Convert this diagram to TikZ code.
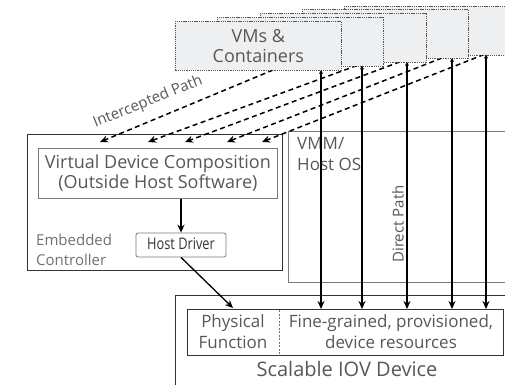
\documentclass[tikz,border=0pt]{standalone}
\usepackage{fontspec}
\setmainfont{Open Sans}
\usepackage{graphicx}
\usetikzlibrary{arrows.meta}
\definecolor{txtgray}{HTML}{575757}
\definecolor{lightgray}{HTML}{707070}
\definecolor{vmfill}{HTML}{EEEFF1}
\definecolor{boxedge}{HTML}{555555}
\definecolor{frameedge}{HTML}{333333}
\definecolor{thinedge}{HTML}{7A7A7A}
\definecolor{divblue}{HTML}{4F7CB0}
\begin{document}
\begin{tikzpicture}[x=1pt,y=-1pt,
  lbl/.style={text=txtgray, inner sep=0pt},
  vmbox/.style={draw=boxedge, fill=vmfill, dash pattern=on 1.3pt off 0.9pt, line width=0.7pt,
    minimum width=166pt, minimum height=49pt, inner sep=0pt, anchor=north west},
  frame/.style={draw=frameedge, line width=1.2pt},
  thinframe/.style={draw=thinedge, line width=0.8pt},
  direct/.style={draw=black, line width=1.3pt, {Stealth[length=4pt,width=4pt]}-{Stealth[length=8pt,width=7pt]}},
  intercept/.style={draw=black, line width=1.5pt, dash pattern=on 5pt off 3.5pt, -{Stealth[length=8pt,width=7pt]}},
  solidarrow/.style={draw=black, line width=1.3pt, -{Stealth[length=8pt,width=7pt]}},
]
\useasboundingbox (0,0) rectangle (505,384);
\clip (0,0) rectangle (505,384);

% VMM / Host OS
\node[thinframe, minimum width=240pt, minimum height=151pt, anchor=north west, inner sep=0pt] (vmm) at (288,131) {};
\node[lbl, anchor=north west, align=left, font=\fontsize{17}{21}\selectfont] (vmmtxt) at (297,137) {VMM/\\Host OS};
\node[lbl, rotate=90, font=\fontsize{15}{18}\selectfont] (dp) at (398,224) {Direct Path};

% Scalable IOV device
\node[frame, minimum width=340pt, minimum height=100pt, anchor=north west, inner sep=0pt] (dev) at (175,295) {};
\node[frame, line width=1pt, minimum width=316pt, minimum height=46pt, anchor=north west, inner sep=0pt] (res) at (187,309) {};
\coordinate (dvtop) at (279,310);
\coordinate (dvbot) at (279,354);
\draw[divblue, line width=0.8pt, dash pattern=on 2pt off 1.5pt] (dvtop) -- (dvbot);
\node[lbl, align=center, font=\fontsize{17}{21}\selectfont] (pf) at (233,332) {Physical\\Function};
\node[lbl, align=center, font=\fontsize{17}{21}\selectfont] (fg) at (391,332) {Fine-grained, provisioned,\\device resources};
\node[lbl, font=\fontsize{20}{24}\selectfont] (sid) at (347,369) {Scalable IOV Device};

% Embedded controller
\node[frame, minimum width=255pt, minimum height=136pt, anchor=north west, inner sep=0pt] (ec) at (27,134) {};
\node[thinframe, minimum width=239pt, minimum height=50pt, anchor=north west, inner sep=0pt] (vdc) at (38,148) {};
\node[lbl, align=center, font=\fontsize{18}{20}\selectfont] (vdctxt) at (vdc.center) {Virtual Device Composition\\(Outside Host Software)};
\node[thinframe, rounded corners=2pt, minimum width=90pt, minimum height=24pt, inner sep=0pt, text=black!80,
  font=\fontsize{16}{18}\selectfont] (hd) at (181,245) {\raisebox{3pt}{\scalebox{0.8}[1]{Host Driver}}};
\node[lbl, text=lightgray, anchor=north west, align=left, font=\fontsize{15}{20}\selectfont] (ectxt) at (36,234) {Embedded\\Controller};
\draw[solidarrow] (vdc.south -| hd.north) -- (hd.north);
\coordinate (pfin) at (233,308);
\draw[solidarrow] (hd.south) -- (pfin);

% intercepted (dashed) paths
\coordinate (s1) at (273,70);   \coordinate (a1) at (100,142);
\coordinate (s2) at (357,65.5); \coordinate (a2) at (148,142);
\coordinate (s3) at (400,61.8); \coordinate (a3) at (185,142);
\coordinate (s4) at (442,58);   \coordinate (a4) at (227,142);
\coordinate (s5) at (484,54.5); \coordinate (a5) at (262,142);
\foreach \i in {1,...,5} { \draw[intercept] (s\i) -- (a\i); }
\node[lbl, rotate=22, font=\fontsize{15}{18}\selectfont] (ip) at (148,102) {Intercepted Path};

% VMs & containers
\node[vmbox] (vm5) at (344,5.5) {};
\node[vmbox] (vm4) at (302,9) {};
\node[vmbox] (vm3) at (260,12.8) {};
\node[vmbox] (vm2) at (217,16.5) {};
\node[vmbox, text=txtgray, align=center, font=\fontsize{18}{20}\selectfont] (vm1) at (175,21) {VMs \&\\Containers};

% direct paths
\coordinate (t1) at (321,70);   \coordinate (e1) at (321,309);
\coordinate (t2) at (362,65.5); \coordinate (e2) at (362,309);
\coordinate (t3) at (407,61.8); \coordinate (e3) at (407,309);
\coordinate (t4) at (452,58);   \coordinate (e4) at (452,309);
\coordinate (t5) at (486,54.5); \coordinate (e5) at (486,309);
\foreach \i in {1,...,5} { \draw[direct] (t\i) -- (e\i); }
\end{tikzpicture}
\end{document}
